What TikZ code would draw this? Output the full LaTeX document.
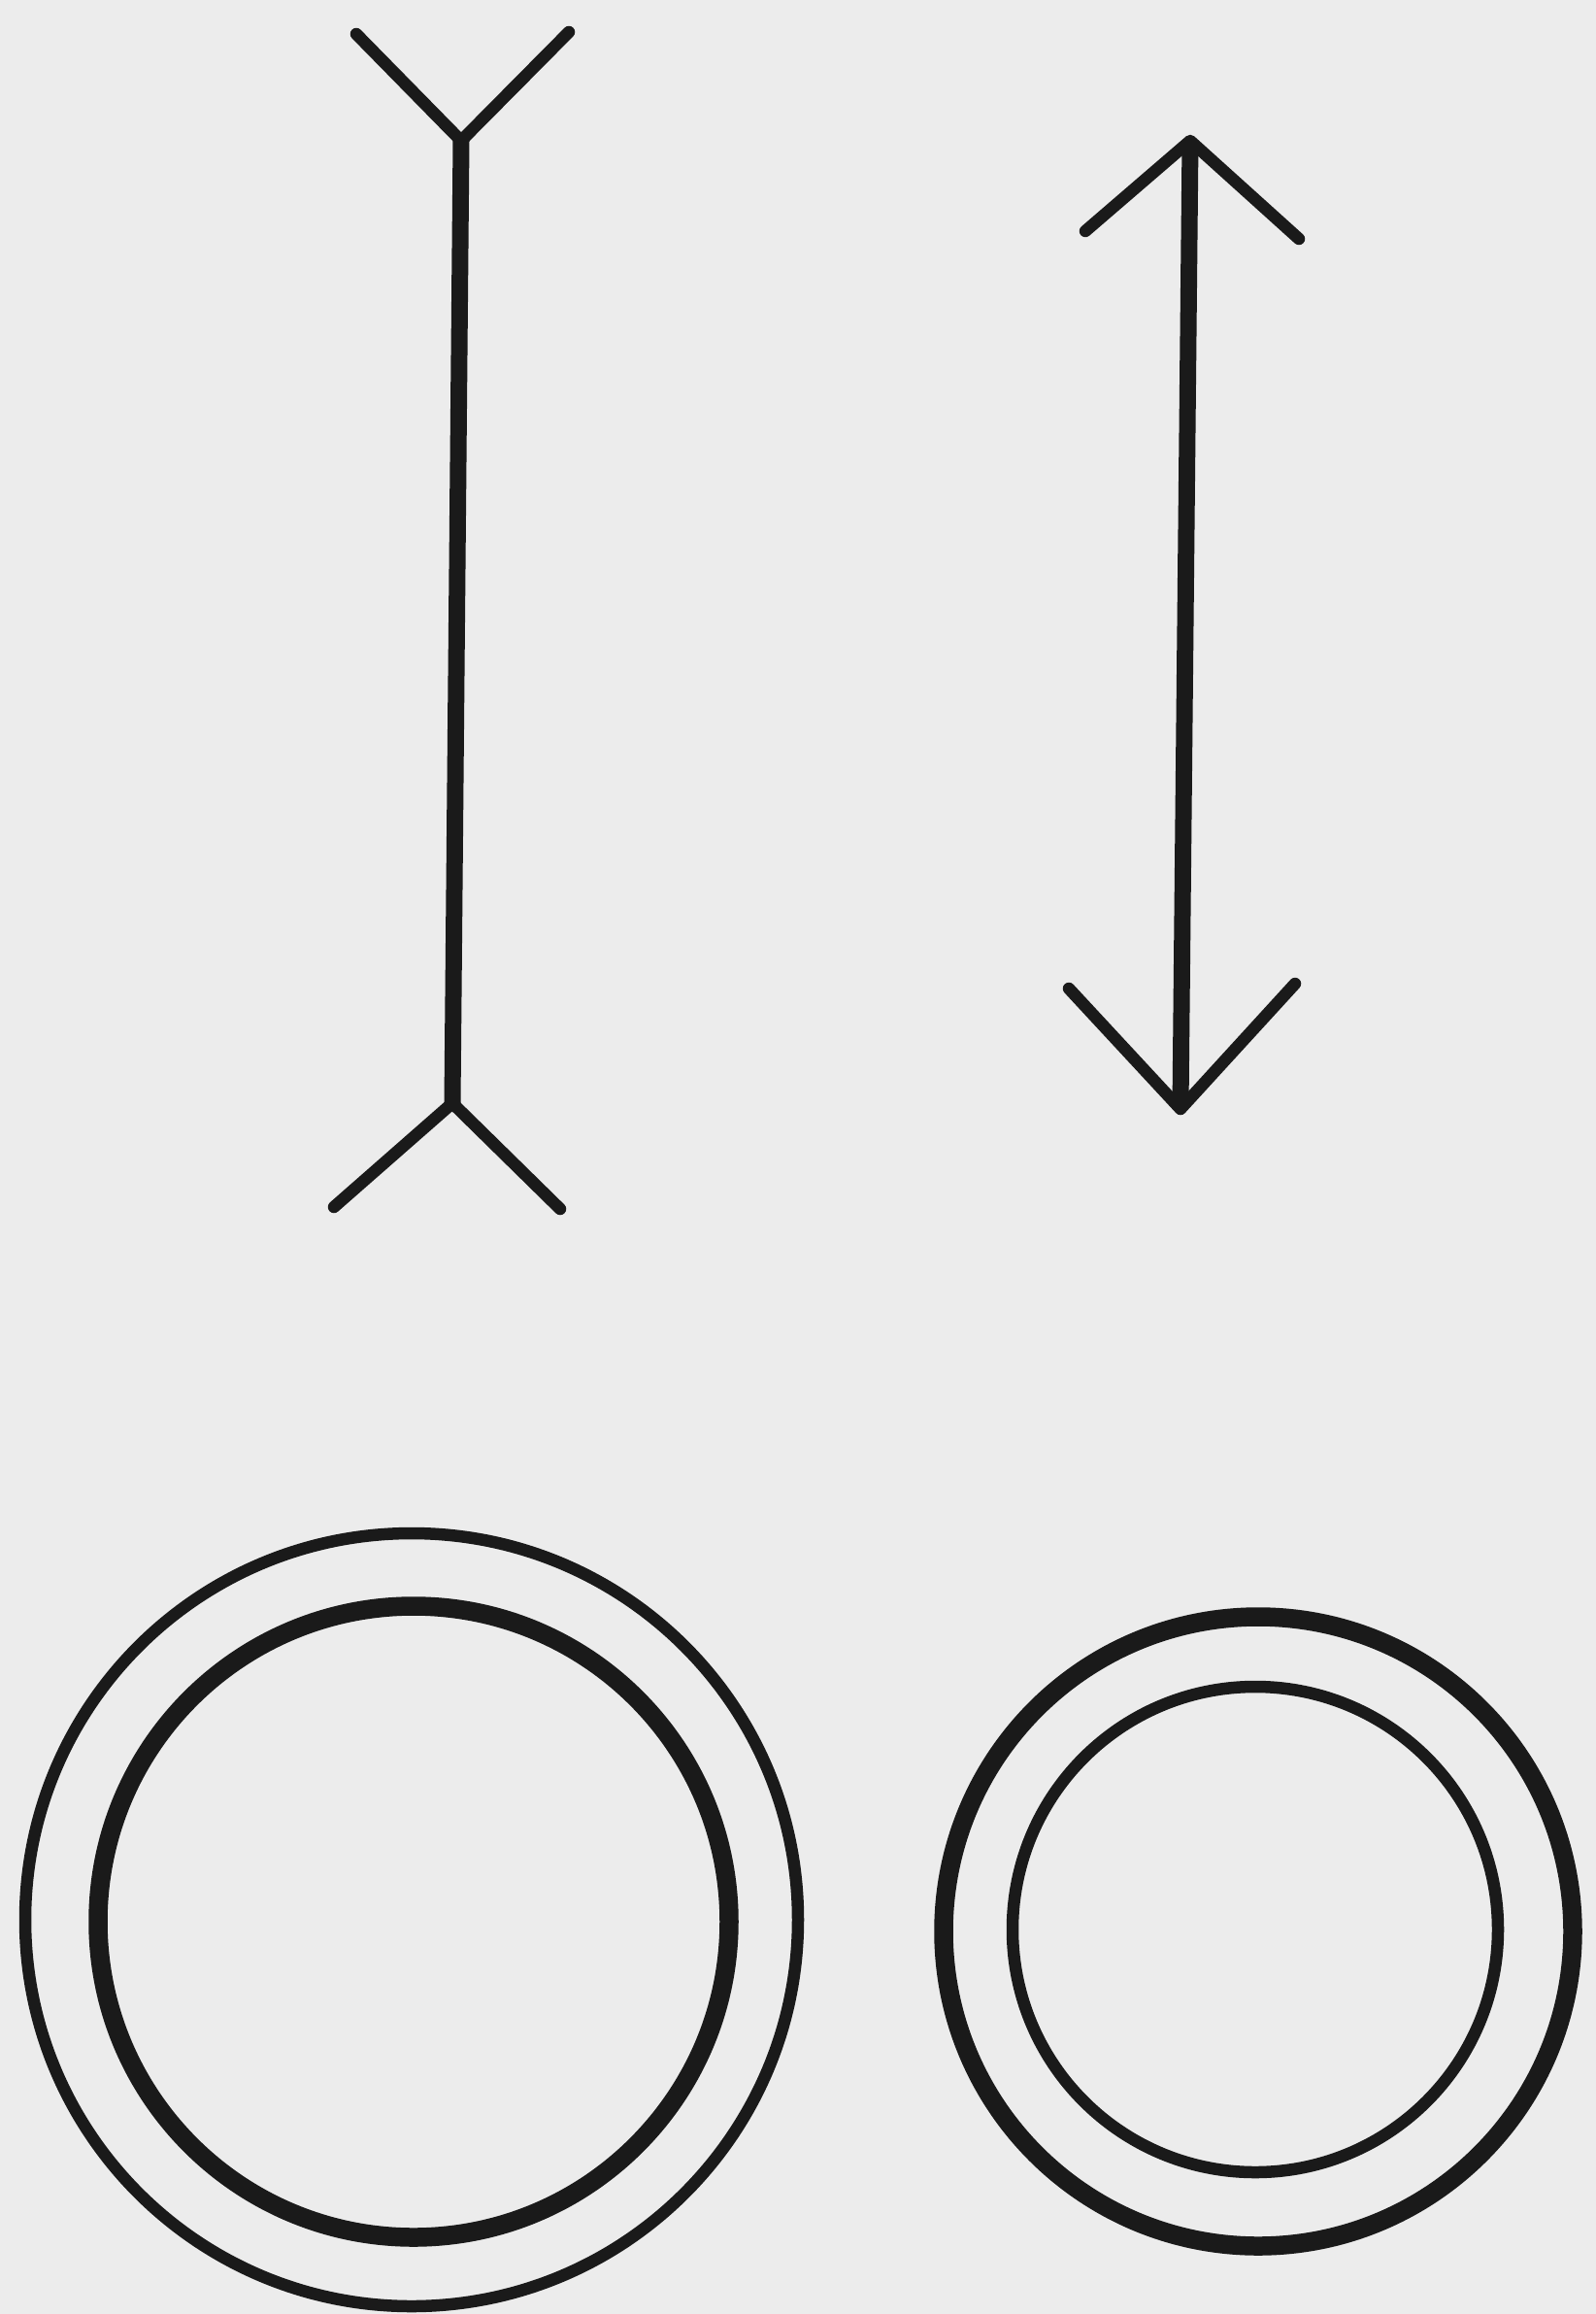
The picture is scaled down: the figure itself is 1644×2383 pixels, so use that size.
\documentclass[tikz,border=0pt]{standalone}
\begin{document}
\begin{tikzpicture}[x=1pt,y=-1pt,
  shaft/.style={draw=ink,line width=17pt,line cap=round},
  fin/.style={draw=ink,line width=12.5pt,line cap=round,line join=round},
  thinring/.style={draw=ink,line width=12.5pt},
  thickring/.style={draw=ink,line width=19.5pt}]
\definecolor{ink}{HTML}{1A1A1A}
\definecolor{paper}{HTML}{ECECEC}
\fill[paper] (0,0) rectangle (1644,2383);
\useasboundingbox (0,0) rectangle (1644,2383);
% left figure (fins outward)
\coordinate (LT) at (475,145);
\coordinate (LB) at (466,1136);
\coordinate (LTa) at (367,35);
\coordinate (LTb) at (586,33);
\coordinate (LBa) at (344,1243);
\coordinate (LBb) at (577,1245);
\draw[shaft] (LT) -- (LB);
\draw[fin] (LTa) -- (LT) -- (LTb);
\draw[fin] (LBa) -- (LB) -- (LBb);
% right figure (arrowheads)
\coordinate (RT) at (1226,145);
\coordinate (RB) at (1216,1142);
\coordinate (RTa) at (1118,238);
\coordinate (RTb) at (1338,246);
\coordinate (RBa) at (1101,1018);
\coordinate (RBb) at (1334,1013);
\draw[shaft,line cap=butt] ([yshift=-1pt]RT) -- ([yshift=1pt]RB);
\draw[fin] (RTa) -- (RT) -- (RTb);
\draw[fin] (RBa) -- (RB) -- (RBb);
% circles
\coordinate (CL) at (424,1977);
\coordinate (CLi) at (426,1979);
\coordinate (CR) at (1296,1989);
\coordinate (CRi) at (1293,1987);
\draw[thinring] (CL) circle[radius=398];
\draw[thickring] (CLi) circle[radius=325];
\draw[thickring] (CR) circle[radius=324];
\draw[thinring] (CRi) circle[radius=250];
\end{tikzpicture}
\end{document}
